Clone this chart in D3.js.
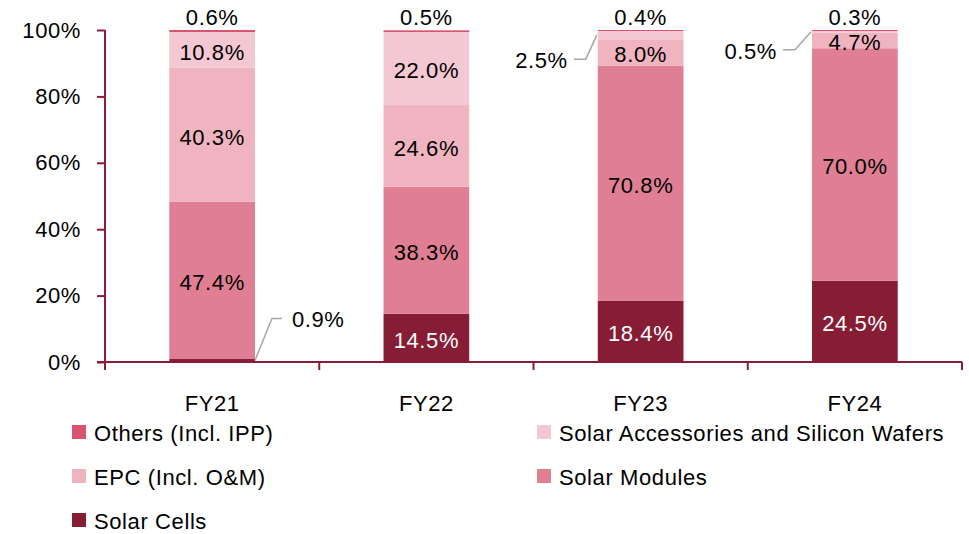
<!DOCTYPE html>
<html>
<head>
<meta charset="utf-8">
<script src="https://cdn.jsdelivr.net/npm/d3@7"></script>
<style>
  body { margin: 0; background: #fff; }
  text { font-family: "Liberation Sans", Arial, sans-serif; letter-spacing: 0.6px; }
</style>
</head>
<body>
<svg width="969" height="534"></svg>
<script>
// data (percent of revenue)
const years = ['FY21', 'FY22', 'FY23', 'FY24'];
const seriesNames = ['Solar Cells', 'Solar Modules', 'EPC (Incl. O&M)', 'Solar Accessories and Silicon Wafers', 'Others (Incl. IPP)'];
const solarCells = [0.9, 14.5, 18.4, 24.5];
const solarModules = [47.4, 38.3, 70.8, 70.0];
const epc = [40.3, 24.6, 8.0, 4.7];
const accessories = [10.8, 22.0, 2.5, 0.5];
const others = [0.6, 0.5, 0.4, 0.3];
const yTicks = [0, 20, 40, 60, 80, 100];

const colors = ['#861d35', '#e07f93', '#efb4c0', '#f4c8d2', '#d9546e'];
const legendOrder = ['Others (Incl. IPP)', 'Solar Accessories and Silicon Wafers', 'EPC (Incl. O&M)', 'Solar Modules', 'Solar Cells'];
const axisColor = '#8a1c3a';
const fontSize = 22;

var svg = d3.select('svg');

// build rows for the stack
const allSeries = [solarCells, solarModules, epc, accessories, others];
const rows = years.map(function(y, i) {
    let r = { year: y };
    seriesNames.forEach(function(s, j) { r[s] = allSeries[j][i]; });
    return r;
});
const stacked = d3.stack().keys(seriesNames)(rows);

let x = d3.scaleBand().domain(years).range([105, 962]);
let y = d3.scaleLinear().domain([0, 100]).range([362, 30]);
let color = d3.scaleOrdinal().domain(seriesNames).range(colors);
let barW = x.bandwidth() * 0.4;

// bars
let layers = svg.append('g').selectAll('g').data(stacked).enter().append('g')
    .attr('fill', d => color(d.key));
layers.selectAll('rect').data(d => d).enter().append('rect')
    .attr('x', d => x(d.data.year) + (x.bandwidth() - barW) / 2)
    .attr('width', barW)
    .attr('y', d => y(Math.min(d[1], 100)))
    .attr('height', d => y(d[0]) - y(Math.min(d[1], 100)));

// callouts for the thin segments (series index s, year index i)
// the small "others" on top sit above the bar instead
const callouts = [
    { s: 0, i: 0, side: 'right', dx: 17, dy: -42 },
    { s: 3, i: 2, side: 'left', dx: -11, dy: 24 },
    { s: 3, i: 3, side: 'left', dx: -16, dy: 18 }
];
function isCallout(s, i) {
    return callouts.some(c => c.s == s && c.i == i);
}

// labels
let labels = svg.append('g').attr('font-size', fontSize);
stacked.forEach(function(layer, s) {
    layer.forEach(function(d, i) {
        let v = d[1] - d[0];
        let cx = x(d.data.year) + x.bandwidth() / 2;
        let cy;
        if (s == 4) {
            cy = 17;
        } else if (isCallout(s, i)) {
            return;
        } else {
            cy = y((d[0] + d[1]) / 2) + 2;
        }
        labels.append('text')
            .attr('x', cx)
            .attr('y', cy)
            .attr('dy', '0.36em')
            .attr('text-anchor', 'middle')
            .attr('fill', s == 0 ? '#fff' : '#000')
            .text(v.toFixed(1) + '%');
    });
});

callouts.forEach(function(c) {
    let d = stacked[c.s][c.i];
    let v = d[1] - d[0];
    let left = x(d.data.year) + (x.bandwidth() - barW) / 2;
    let py = y((d[0] + d[1]) / 2);
    let ty = py + c.dy;
    let pts, tx, anchor;
    if (c.side == 'right') {
        let px = left + barW;
        pts = [[px, py], [px + c.dx, ty], [px + c.dx + 10, ty]];
        tx = px + c.dx + 20; anchor = 'start';
    } else {
        let px = left - 1;
        pts = [[px, py], [px + c.dx, ty], [px + c.dx - 12, ty]];
        tx = px + c.dx - 18; anchor = 'end';
    }
    svg.append('path')
        .attr('d', d3.line()(pts))
        .attr('fill', 'none')
        .attr('stroke', '#a6a6a6')
        .attr('stroke-width', 1.5);
    labels.append('text')
        .attr('x', tx)
        .attr('y', ty + 1)
        .attr('dy', '0.36em')
        .attr('text-anchor', anchor)
        .text(v.toFixed(1) + '%');
});

// y axis
let yAxis = svg.append('g').attr('transform', 'translate(105,0)')
    .call(d3.axisLeft(y).tickValues(yTicks).tickSize(8).tickPadding(16).tickFormat(d => d + '%'));
yAxis.select('.domain').attr('stroke', axisColor).attr('stroke-width', 2).attr('d', 'M0,30V370');
yAxis.selectAll('.tick line').attr('stroke', axisColor).attr('stroke-width', 2);
yAxis.selectAll('.tick text').attr('font-size', fontSize).attr('fill', '#000')
    .attr('font-family', '"Liberation Sans", Arial, sans-serif');

// x axis with ticks on category boundaries
let xg = svg.append('g');
xg.append('line').attr('x1', 97).attr('x2', 962).attr('y1', 362).attr('y2', 362)
    .attr('stroke', axisColor).attr('stroke-width', 2);
years.forEach(function(yr) {
    let b = x(yr) + x.bandwidth();
    xg.append('line').attr('x1', b).attr('x2', b).attr('y1', 362).attr('y2', 370)
        .attr('stroke', axisColor).attr('stroke-width', 2);
    xg.append('text')
        .attr('x', x(yr) + x.bandwidth() / 2)
        .attr('y', 403)
        .attr('dy', '0.36em')
        .attr('text-anchor', 'middle')
        .attr('font-size', fontSize)
        .text(yr);
});

// legend, two columns
let legend = svg.append('g');
legendOrder.forEach(function(name, k) {
    let lx = k % 2 == 0 ? 72 : 537;
    let ly = 432 + Math.floor(k / 2) * 44;
    legend.append('rect').attr('x', lx).attr('y', ly - 7).attr('width', 14).attr('height', 14)
        .attr('fill', color(name));
    legend.append('text').attr('x', lx + 22).attr('y', ly + 1).attr('dy', '0.36em')
        .attr('font-size', fontSize).text(name);
});
</script>
</body>
</html>
